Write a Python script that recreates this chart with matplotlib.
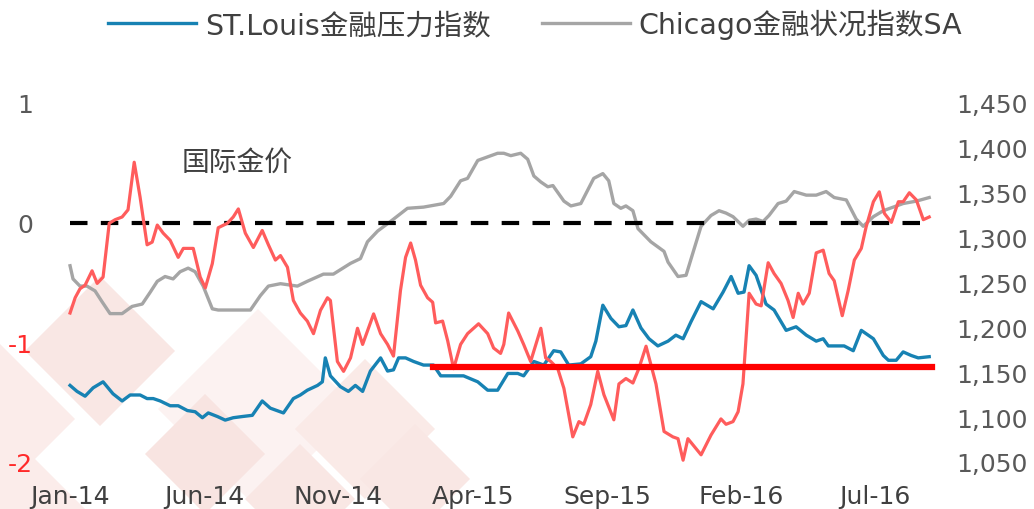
import matplotlib
matplotlib.use("Agg")
import matplotlib.pyplot as plt
from matplotlib.patches import Polygon

plt.rcParams['font.family'] = ['DejaVu Sans', 'Noto Sans CJK SC']

# months since Jan-2014
tick_pos = [0, 5, 10, 15, 20, 25, 30]
tick_labels = ['Jan-14', 'Jun-14', 'Nov-14', 'Apr-15', 'Sep-15', 'Feb-16', 'Jul-16']

# ST.Louis financial stress index
stl_t = [0, 0.26, 0.56, 0.86, 1.23, 1.6, 1.94, 2.24, 2.61, 2.87, 3.1, 3.36, 3.73, 4.03,
         4.37, 4.66, 4.93, 5.15, 5.49, 5.78, 6.08, 6.42, 6.79, 7.16, 7.46, 7.95, 8.32,
         8.58, 8.84, 9.22, 9.4, 9.51, 9.7, 10.07, 10.37, 10.63, 10.9, 11.19, 11.57,
         11.83, 12.05, 12.24, 12.5, 12.8, 13.17, 13.54, 13.81, 14.18, 14.66, 15.19,
         15.56, 15.93, 16.31, 16.68, 16.9, 17.28, 17.65, 18.02, 18.28, 18.58, 19.03,
         19.4, 19.59, 19.85, 20.15, 20.45, 20.71, 20.97, 21.27, 21.57, 21.9, 22.28,
         22.57, 22.84, 23.13, 23.51, 23.96, 24.33, 24.63, 24.89, 25.11, 25.3, 25.56,
         25.93, 26.23, 26.68, 27.05, 27.43, 27.8, 28.06, 28.25, 28.54, 28.84, 29.18,
         29.48, 29.93, 30.3, 30.49, 30.78, 31.04, 31.34, 31.6, 32.01]
stl_v = [-1.36, -1.41, -1.45, -1.38, -1.33, -1.43, -1.49, -1.44, -1.44, -1.47, -1.47,
         -1.49, -1.53, -1.53, -1.57, -1.58, -1.63, -1.59, -1.62, -1.65, -1.63, -1.62,
         -1.61, -1.49, -1.55, -1.59, -1.47, -1.44, -1.40, -1.36, -1.33, -1.13, -1.28,
         -1.37, -1.41, -1.36, -1.41, -1.24, -1.13, -1.24, -1.23, -1.13, -1.13, -1.16,
         -1.19, -1.19, -1.28, -1.28, -1.28, -1.33, -1.40, -1.40, -1.26, -1.26, -1.28,
         -1.16, -1.19, -1.07, -1.08, -1.19, -1.18, -1.12, -0.99, -0.69, -0.80, -0.87,
         -0.86, -0.73, -0.88, -0.97, -1.03, -0.99, -0.94, -0.97, -0.83, -0.66, -0.72,
         -0.58, -0.45, -0.59, -0.58, -0.36, -0.44, -0.68, -0.73, -0.90, -0.87, -0.94,
         -0.99, -0.97, -1.03, -1.03, -1.03, -1.07, -0.90, -0.97, -1.11, -1.15, -1.15,
         -1.08, -1.11, -1.13, -1.12]

# Chicago financial conditions index SA
chi_t = [0, 0.11, 0.37, 0.63, 0.93, 1.19, 1.49, 1.94, 2.31, 2.69, 2.99, 3.25, 3.54, 3.84,
         4.1, 4.4, 4.66, 4.96, 5.3, 5.52, 6.72, 7.09, 7.39, 7.84, 8.47, 8.84, 9.44, 9.81,
         10.45, 10.82, 11.08, 11.46, 11.94, 12.57, 13.17, 13.92, 14.18, 14.55, 14.81,
         15.19, 15.56, 15.93, 16.16, 16.42, 16.79, 17.05, 17.28, 17.54, 17.8, 17.99,
         18.4, 18.66, 19.03, 19.51, 19.85, 20.07, 20.26, 20.52, 20.71, 20.97, 21.16,
         21.64, 22.13, 22.28, 22.65, 22.95, 23.25, 23.51, 23.88, 24.18, 24.44, 24.7,
         25.07, 25.3, 25.56, 25.82, 26.04, 26.38, 26.68, 26.98, 27.43, 27.8, 28.17,
         28.47, 28.92, 29.29, 29.55, 29.93, 30.3, 30.67, 31.04, 31.53, 32.01]
chi_v = [-0.36, -0.47, -0.53, -0.53, -0.57, -0.66, -0.76, -0.76, -0.70, -0.68, -0.58,
         -0.49, -0.45, -0.47, -0.41, -0.38, -0.41, -0.53, -0.72, -0.73, -0.73, -0.61,
         -0.53, -0.51, -0.53, -0.49, -0.43, -0.43, -0.34, -0.30, -0.16, -0.07, 0.01,
         0.12, 0.13, 0.16, 0.22, 0.35, 0.37, 0.52, 0.55, 0.58, 0.58, 0.56, 0.58, 0.53,
         0.39, 0.34, 0.30, 0.31, 0.18, 0.14, 0.16, 0.37, 0.41, 0.35, 0.16, 0.12, 0.14,
         0.10, -0.05, -0.16, -0.24, -0.33, -0.45, -0.44, -0.22, -0.03, 0.06, 0.10,
         0.08, 0.05, -0.03, 0.02, 0.03, 0.01, 0.06, 0.16, 0.18, 0.26, 0.23, 0.23, 0.26,
         0.21, 0.19, 0.03, -0.03, 0.05, 0.10, 0.13, 0.16, 0.18, 0.21]

# international gold price (right axis)
gold_t = [0, 0.19, 0.37, 0.56, 0.82, 1.01, 1.23, 1.46, 1.68, 1.94, 2.16, 2.39, 2.61,
          2.87, 3.06, 3.25, 3.47, 3.73, 4.03, 4.22, 4.59, 4.85, 5.04, 5.3, 5.52, 5.86,
          6.08, 6.27, 6.53, 6.83, 7.16, 7.39, 7.65, 7.84, 8.1, 8.32, 8.58, 8.84, 9.07,
          9.33, 9.59, 9.7, 9.96, 10.19, 10.45, 10.71, 10.9, 11.08, 11.31, 11.57, 11.83,
          12.05, 12.31, 12.5, 12.69, 12.87, 13.06, 13.32, 13.51, 13.62, 13.88, 14.07,
          14.29, 14.55, 14.81, 15.22, 15.56, 15.78, 16.04, 16.16, 16.34, 16.68, 16.9,
          17.16, 17.54, 17.72, 17.91, 18.17, 18.4, 18.73, 18.96, 19.14, 19.4, 19.66,
          19.89, 20.26, 20.45, 20.71, 20.97, 21.19, 21.46, 21.83, 22.13, 22.46, 22.65,
          22.84, 23.02, 23.51, 23.88, 24.25, 24.44, 24.7, 24.89, 25.07, 25.3, 25.56,
          25.75, 26.01, 26.23, 26.49, 26.75, 26.94, 27.13, 27.31, 27.54, 27.8, 28.06,
          28.28, 28.47, 28.77, 28.99, 29.22, 29.48, 29.66, 29.93, 30.15, 30.34, 30.6,
          30.86, 31.04, 31.27, 31.53, 31.79, 32.01]
gold_v = [1216, 1233, 1243, 1247, 1263, 1249, 1256, 1316, 1320, 1323, 1331, 1384, 1345,
          1292, 1295, 1314, 1305, 1297, 1278, 1288, 1288, 1256, 1244, 1271, 1311, 1316,
          1323, 1332, 1305, 1289, 1308, 1292, 1275, 1280, 1267, 1230, 1216, 1207, 1193,
          1219, 1233, 1230, 1162, 1151, 1166, 1199, 1181, 1196, 1215, 1193, 1181, 1168,
          1241, 1278, 1294, 1275, 1247, 1233, 1228, 1205, 1207, 1185, 1154, 1181, 1193,
          1204, 1193, 1177, 1171, 1181, 1216, 1196, 1181, 1162, 1199, 1166, 1162, 1154,
          1132, 1078, 1095, 1092, 1114, 1151, 1125, 1097, 1137, 1143, 1138, 1154, 1179,
          1137, 1084, 1078, 1076, 1052, 1076, 1058, 1080, 1098, 1092, 1095, 1106, 1137,
          1238, 1226, 1224, 1272, 1260, 1249, 1230, 1211, 1238, 1226, 1238, 1283, 1286,
          1260, 1252, 1213, 1241, 1275, 1288, 1312, 1340, 1351, 1327, 1317, 1340, 1340,
          1350, 1342, 1320, 1323]

support_level = 1156
support_span = [13.54, 32.1]

fig = plt.figure(figsize=(10.34, 5.1), dpi=100)

# faint watermark diamonds behind the plot (pixel centre x, y, half diagonal, colour)
marks = [(100, 352, 75, '#f9e7e4'), (258, 410, 100, '#fcf2f1'), (205, 455, 60, '#f8e4e1'),
         (0, 420, 75, '#fbeceA'), (365, 430, 70, '#faeae7'), (415, 480, 55, '#f9e7e4'),
         (300, 500, 55, '#f9e7e4'), (25, 510, 60, '#fbecea')]
for cx, cy, h, c in marks:
    pts = [((cx - h) / 100, (510 - cy) / 100), (cx / 100, (510 - cy + h) / 100),
           ((cx + h) / 100, (510 - cy) / 100), (cx / 100, (510 - cy - h) / 100)]
    fig.patches.append(Polygon(pts, closed=True, facecolor=c, edgecolor='none',
                               transform=fig.dpi_scale_trans, zorder=-5))

ax = fig.add_axes([62 / 1034, 47 / 510, 875 / 1034, 359 / 510])
ax.patch.set_alpha(0)
ax2 = ax.twinx()

l1, = ax.plot(stl_t, stl_v, color='#1782b3', lw=2.4, label='ST.Louis金融压力指数')
l2, = ax.plot(chi_t, chi_v, color='#a5a5a5', lw=2.4, label='Chicago金融状况指数SA')
ax.plot([0, 32.1], [0, 0], color='black', lw=3, linestyle=(0, (4.2, 3.2)))

ax2.plot(gold_t, gold_v, color='#ff5c5c', lw=2.3)
ax2.plot(support_span, [support_level, support_level], color='#ff0000', lw=4.5)

ax.set_xlim(-0.3, 32.3)
ax.set_ylim(-2, 1)
ax2.set_ylim(1050, 1450)

ax.set_xticks(tick_pos)
ax.set_xticklabels(tick_labels)
ax.set_yticks([1, 0, -1, -2])
ax.set_yticklabels(['1', '0', '-1', '-2'])
for lab, c in zip(ax.get_yticklabels(), ['#595959', '#595959', '#ff2a2a', '#ff2a2a']):
    lab.set_color(c)
ax2.set_yticks(range(1050, 1451, 50))
ax2.set_yticklabels(['{:,}'.format(v) for v in range(1050, 1451, 50)])

ax.tick_params(axis='x', length=0, pad=16, labelsize=18, labelcolor='#404040')
ax.tick_params(axis='y', length=0, pad=21, labelsize=18)
ax2.tick_params(axis='y', length=0, pad=14, labelsize=18, labelcolor='#595959')

for a in (ax, ax2):
    for s in a.spines.values():
        s.set_visible(False)

ax.text(237 / 1034, 347 / 510, '国际金价', transform=fig.transFigure, fontsize=20,
        color='#404040', ha='center', va='center')

fig.legend(handles=[l1, l2], loc='center', bbox_to_anchor=(535 / 1034, 485 / 510),
           ncol=2, frameon=False, fontsize=20.5, handlelength=3.1, handletextpad=0.3,
           columnspacing=1.8, labelcolor='#404040')

fig.savefig('out.png', dpi=100)
